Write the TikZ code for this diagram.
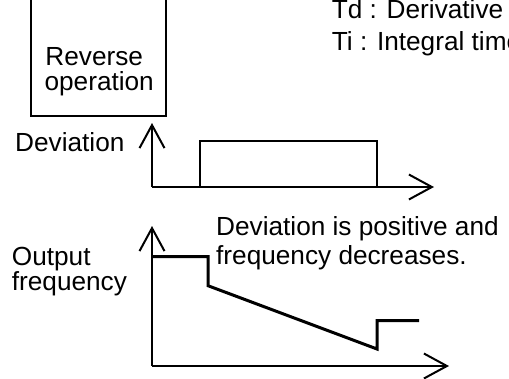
\documentclass[tikz,border=0pt]{standalone}
\usepackage{fontspec}
\setmainfont{Liberation Sans}
\usetikzlibrary{arrows.meta}
\begin{document}
\begin{tikzpicture}[x=1pt,y=-1pt,
  txt/.style={inner sep=0pt, font=\fontsize{26.2}{27}\selectfont},
  axis/.style={line width=2pt, -{Straight Barb[length=23pt,width=25pt,line width=2pt]}},
  thin line/.style={line width=2pt},
  curve/.style={line width=3pt}]
\useasboundingbox (0,0) rectangle (509,378);
% Reverse operation box
\node[draw, line width=2.2pt, minimum width=135pt, minimum height=160pt, anchor=south, inner sep=0pt] (rev) at (98.5,117) {};
\node[txt, anchor=base] (rev1) at (94.2,65) {Reverse};
\node[txt, anchor=base] (rev2) at (99.2,90) {operation};
% legend
\node[txt, anchor=base west] (td) at (331.7,18.3) {Td : Derivative time};
\node[txt, anchor=base west] (ti) at (331.7,50) {Ti : Integral time};
% deviation plot
\coordinate (o1) at (152,187);
\coordinate (y1) at (152,123);
\coordinate (x1) at (434,187);
\draw[axis] (o1) -- (y1);
\draw[axis] (o1) -- (x1);
\coordinate (p1) at (200,187);
\coordinate (p2) at (377,187);
\draw[thin line] (p1) |- (377,141) -- (p2);
\node[txt, anchor=base west] (dev) at (15,151.7) {Deviation};
% output frequency plot
\coordinate (o2) at (152,366);
\coordinate (y2) at (152,226);
\coordinate (x2) at (449,366);
\draw[axis] (o2) -- (y2);
\draw[axis] (o2) -- (x2);
\coordinate (f0) at (152,256.7);
\coordinate (f5) at (419,320.7);
\draw[curve] (f0) -- (208,256.7) -- (208,285.7) -- (377,349) -- (377,320.7) -- (f5);
\node[txt, anchor=base west] (out1) at (11.7,265) {Output};
\node[txt, anchor=base west] (out2) at (11.7,290.7) {frequency};
\node[txt, anchor=base west] (note1) at (216,235.7) {Deviation is positive and};
\node[txt, anchor=base west] (note2) at (216,264) {frequency decreases.};
\end{tikzpicture}
\end{document}
